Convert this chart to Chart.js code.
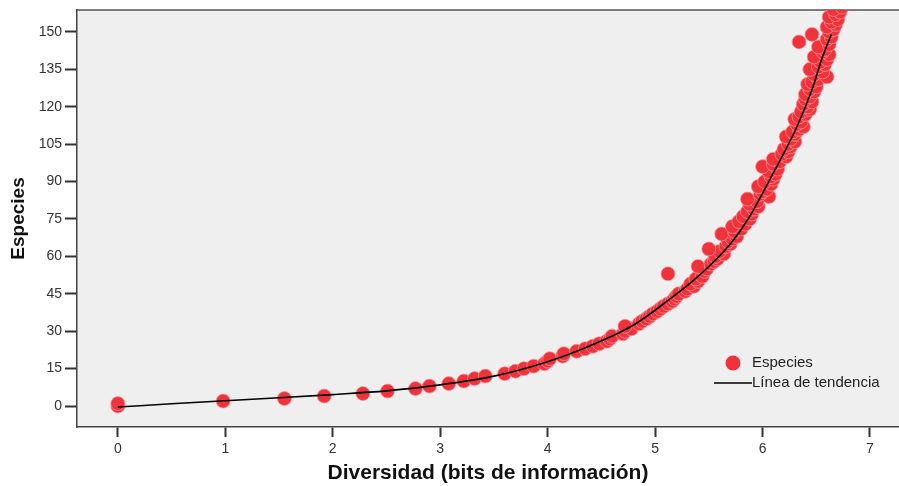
<!DOCTYPE html>
<html lang="es">
<head>
<meta charset="utf-8">
<title>Especies frente a diversidad</title>
<script src="https://cdn.jsdelivr.net/npm/chart.js@4.4.1/dist/chart.umd.min.js"></script>
<style>
  html, body { margin: 0; padding: 0; background: #fff; overflow: hidden; }
  #wrap { width: 899px; height: 486px; }
  #wrap canvas { display: block; }
</style>
</head>
<body>
<div id="wrap"><canvas id="chart" width="899" height="486"></canvas></div>
<script>
// diversidad (bits de información) de cada muestra
const diversidad = [
  0.00, 0.00, 0.98, 1.55, 1.92, 2.28, 2.51, 2.77, 2.90, 3.08,
  3.22, 3.32, 3.42, 3.60, 3.70, 3.78, 3.87, 3.97, 4.00, 4.02,
  4.14, 4.15, 4.27, 4.35, 4.42, 4.48, 4.55, 4.58, 4.60, 4.70,
  4.72, 4.78, 4.72, 4.85, 4.88, 4.92, 4.95, 4.98, 5.02, 5.05,
  5.08, 5.12, 5.16, 5.18, 5.20, 5.22, 5.28, 5.30, 5.36, 5.33,
  5.40, 5.38, 5.44, 5.12, 5.46, 5.48, 5.40, 5.52, 5.55, 5.58,
  5.56, 5.64, 5.60, 5.50, 5.66, 5.70, 5.68, 5.72, 5.76, 5.62,
  5.74, 5.80, 5.72, 5.84, 5.78, 5.88, 5.82, 5.90, 5.86, 5.92,
  5.96, 5.88, 5.95, 5.86, 6.06, 5.98, 6.00, 6.04, 5.96, 6.08,
  6.02, 6.10, 6.08, 6.12, 6.06, 6.14, 6.00, 6.10, 6.16, 6.10,
  6.22, 6.18, 6.24, 6.20, 6.26, 6.24, 6.30, 6.26, 6.22, 6.30,
  6.28, 6.34, 6.38, 6.32, 6.36, 6.30, 6.34, 6.40, 6.36, 6.44,
  6.42, 6.38, 6.46, 6.40, 6.44, 6.40, 6.48, 6.44, 6.50, 6.42,
  6.46, 6.52, 6.60, 6.48, 6.56, 6.44, 6.52, 6.58, 6.54, 6.60,
  6.48, 6.62, 6.56, 6.58, 6.52, 6.62, 6.34, 6.60, 6.64, 6.46,
  6.62, 6.66, 6.60, 6.68, 6.64, 6.70, 6.62, 6.68, 6.72, 6.66,
  6.74
];
// número de especies de cada muestra
const especies = [
    0,   1,   2,   3,   4,   5,   6,   7,   8,   9,
   10,  11,  12,  13,  14,  15,  16,  17,  18,  19,
   20,  21,  22,  23,  24,  25,  26,  27,  28,  29,
   30,  31,  32,  33,  34,  35,  36,  37,  38,  39,
   40,  41,  42,  43,  44,  45,  46,  47,  48,  49,
   50,  51,  52,  53,  54,  55,  56,  57,  58,  59,
   60,  61,  62,  63,  64,  65,  66,  67,  68,  69,
   70,  71,  72,  73,  74,  75,  76,  77,  78,  79,
   80,  81,  82,  83,  84,  85,  86,  87,  88,  89,
   90,  91,  92,  93,  94,  95,  96,  97,  98,  99,
  100, 101, 102, 103, 104, 105, 106, 107, 108, 109,
  110, 111, 112, 113, 114, 115, 116, 117, 118, 119,
  120, 121, 122, 123, 124, 125, 126, 127, 128, 129,
  130, 131, 132, 133, 134, 135, 136, 137, 138, 139,
  140, 141, 142, 143, 144, 145, 146, 147, 148, 149,
  150, 151, 152, 153, 154, 155, 156, 157, 158, 159,
  160
];
// línea de tendencia
const tendX = [0, 0.5, 1, 1.5, 2, 2.5, 3, 3.5, 4, 4.3, 4.8, 5.14, 5.4, 5.7, 5.88, 6.07, 6.32, 6.47, 6.55, 6.64];
const tendY = [-0.4, 0.9, 2.1, 3.3, 4.6, 6.1, 8.5, 12, 17.8, 22.5, 32.5, 43, 52, 65, 76, 91, 112, 128, 139, 149];

const xTicks = [0, 1, 2, 3, 4, 5, 6, 7];
const yTicks = [0, 15, 30, 45, 60, 75, 90, 105, 120, 135, 150];

const FONT = '"Liberation Sans", Arial, sans-serif';
const RED = 'rgb(240, 50, 58)';

// fondo gris del área del gráfico y borde superior
const fondo = {
  id: 'fondo',
  beforeDraw(chart) {
    const a = chart.chartArea, c = chart.ctx;
    c.save();
    c.fillStyle = '#efefef';
    c.fillRect(a.left, a.top, a.right - a.left, a.bottom - a.top);
    c.strokeStyle = '#555';
    c.lineWidth = 1.5;
    c.beginPath();
    c.moveTo(a.left, a.top);
    c.lineTo(a.right, a.top);
    c.stroke();
    c.restore();
  }
};

// leyenda dentro del área, abajo a la derecha
const leyenda = {
  id: 'leyenda',
  afterDraw(chart) {
    const a = chart.chartArea, c = chart.ctx;
    const ds = chart.data.datasets;
    const tx = a.right - 147, y1 = a.bottom - 64, y2 = a.bottom - 44;
    c.save();
    c.font = '15px ' + FONT;
    c.textBaseline = 'middle';
    c.beginPath();
    c.arc(tx - 19, y1, 7.5, 0, Math.PI * 2);
    c.fillStyle = RED;
    c.fill();
    c.fillStyle = '#222';
    c.fillText(ds[1].label, tx, y1);
    c.strokeStyle = '#000';
    c.lineWidth = 1.6;
    c.beginPath();
    c.moveTo(tx - 38, y2);
    c.lineTo(tx, y2);
    c.stroke();
    c.fillText(ds[0].label, tx, y2);
    c.restore();
  }
};

new Chart(document.getElementById('chart'), {
  type: 'scatter',
  data: {
    datasets: [
      {
        type: 'line',
        label: 'Línea de tendencia',
        data: tendX.map((x, i) => ({ x: x, y: tendY[i] })),
        borderColor: '#000',
        borderWidth: 1.6,
        pointRadius: 0,
        fill: false,
        cubicInterpolationMode: 'monotone',
        order: 0
      },
      {
        label: 'Especies',
        data: diversidad.map((x, i) => ({ x: x, y: especies[i] })),
        backgroundColor: RED,
        borderColor: 'rgba(255, 150, 156, 0.7)',
        borderWidth: 1,
        pointRadius: 7,
        order: 1
      }
    ]
  },
  options: {
    responsive: false,
    animation: false,
    events: [],
    layout: { autoPadding: false, padding: { top: 10, right: 0, left: 0, bottom: 0 } },
    plugins: { legend: { display: false }, tooltip: { enabled: false } },
    scales: {
      x: {
        type: 'linear',
        min: -0.38,
        max: 7.27,
        afterBuildTicks: s => { s.ticks = xTicks.map(v => ({ value: v })); },
        afterFit: s => { s.height = 59; s.paddingLeft = 0; s.paddingRight = 0; },
        grid: { drawOnChartArea: false, drawTicks: true, tickLength: 10, tickWidth: 2, tickColor: '#333' },
        border: { display: true, color: '#444', width: 1.5 },
        ticks: { padding: 4, color: '#333', font: { family: FONT, size: 14 }, maxRotation: 0 },
        title: {
          display: true,
          text: 'Diversidad (bits de información)',
          color: '#111',
          font: { family: FONT, size: 21, weight: 'bold' },
          padding: { top: 0, bottom: 0 }
        }
      },
      y: {
        type: 'linear',
        min: -8.4,
        max: 158.8,
        afterBuildTicks: s => { s.ticks = yTicks.map(v => ({ value: v })); },
        afterFit: s => { s.width = 77; s.paddingTop = 0; s.paddingBottom = 0; },
        grid: { drawOnChartArea: false, drawTicks: true, tickLength: 12, tickWidth: 2, tickColor: '#333' },
        border: { display: true, color: '#444', width: 1.5 },
        ticks: { padding: 3, color: '#333', font: { family: FONT, size: 14 } },
        title: {
          display: true,
          text: 'Especies',
          color: '#111',
          font: { family: FONT, size: 19, weight: 'bold' },
          padding: { top: 7, bottom: 0 }
        }
      }
    }
  },
  plugins: [fondo, leyenda]
});
</script>
</body>
</html>
